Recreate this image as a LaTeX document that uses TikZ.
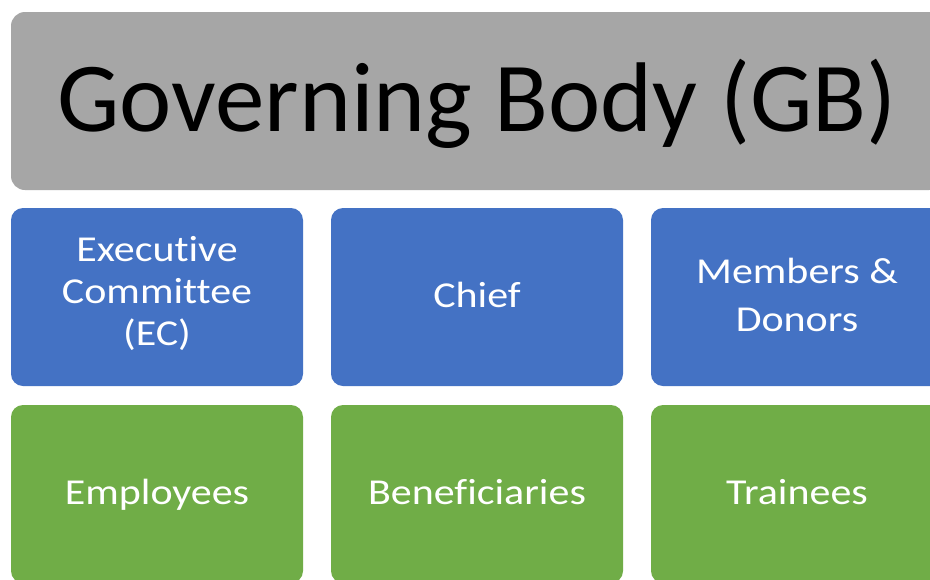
\documentclass[tikz,border=0pt]{standalone}
\usepackage{fontspec}
\setmainfont{Carlito}[Ligatures=NoCommon]
\newfontfamily\boxfont{Carlito}[FakeStretch=1.15, Ligatures=NoCommon]
\definecolor{gbgray}{HTML}{A6A6A6}
\definecolor{blu}{HTML}{4472C4}
\definecolor{grn}{HTML}{70AD47}
\tikzset{
  box/.style={rounded corners=12pt, minimum width=292pt, minimum height=178pt, inner sep=0pt},
  bluebox/.style={box, fill=blu},
  greenbox/.style={box, fill=grn},
  titlebox/.style={rounded corners=14pt, fill=gbgray, minimum width=932pt, minimum height=178pt, inner sep=0pt},
  lbl/.style={anchor=base, inner sep=0pt, text=white, font=\boxfont\fontsize{36.5}{42}\selectfont},
  ttl/.style={anchor=base, inner sep=0pt, text=black, font=\fontsize{99}{110}\selectfont}
}
\begin{document}
\begin{tikzpicture}[x=1pt,y=-1pt]
\useasboundingbox (0,0) rectangle (930,579);
\clip (0,0) rectangle (930,579);
\fill[white] (0,0) rectangle (930,579);
\node[titlebox] (gb) at (477,101) {};
\node[ttl] (gbt) at (477,131) {Governing Body (GB)};
\node[bluebox] (ec) at (157,297) {};
\node[bluebox] (chief) at (477,297) {};
\node[bluebox] (md) at (797,297) {};
\node[greenbox] (emp) at (157,494) {};
\node[greenbox] (ben) at (477,494) {};
\node[greenbox] (tr) at (797,494) {};
\node[lbl] (ec1) at (157,261) {Executive};
\node[lbl] (ec2) at (157,303) {Committee};
\node[lbl] (ec3) at (157,345) {(EC)};
\node[lbl] (chieft) at (477,307) {Chief};
\node[lbl] (md1) at (797,283.5) {Members \&};
\node[lbl] (md2) at (797,331.5) {Donors};
\node[lbl] (empt) at (157,504) {Employees};
\node[lbl] (bent) at (477,504) {Beneficiaries};
\node[lbl] (trt) at (797,504) {Trainees};
\end{tikzpicture}
\end{document}
